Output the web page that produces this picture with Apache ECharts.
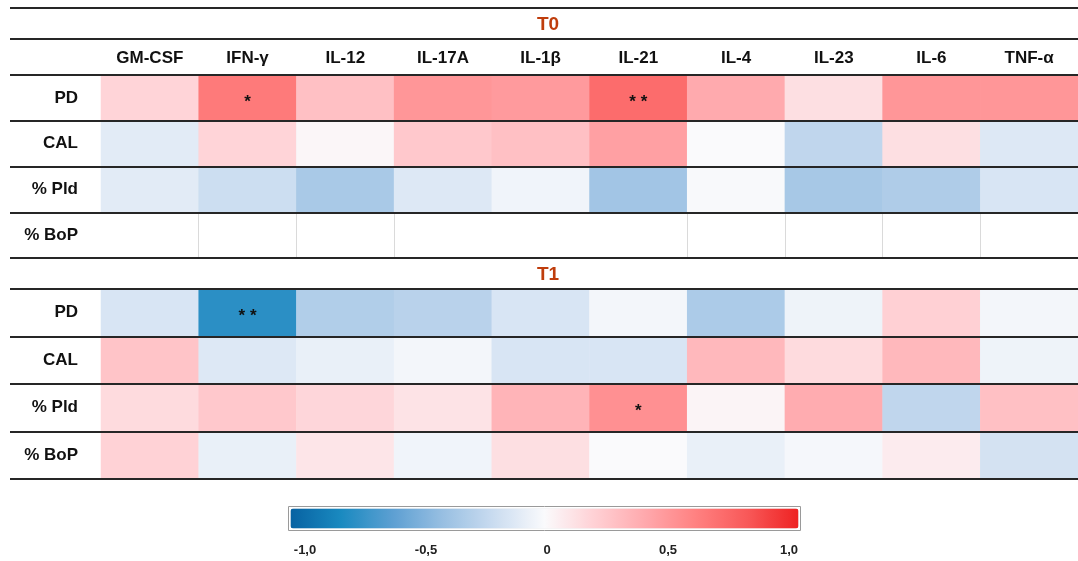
<!DOCTYPE html>
<html>
<head>
<meta charset="utf-8">
<script src="https://cdn.jsdelivr.net/npm/echarts@6/dist/echarts.min.js"></script>
<style>
  html, body { margin: 0; padding: 0; background: #ffffff; }
  #chart { width: 1078px; height: 561px; }
</style>
</head>
<body>
<div id="chart"></div>
<script>
// Cytokines (columns) and clinical parameters (rows)
const cytokines = ['GM-CSF', 'IFN-γ', 'IL-12', 'IL-17A', 'IL-1β', 'IL-21', 'IL-4', 'IL-23', 'IL-6', 'TNF-α'];
const parameters = ['PD', 'CAL', '% Pld', '% BoP'];

// Correlation coefficients at T0 (% BoP not available at T0)
const t0PD  = [0.18, 0.63, 0.28, 0.49, 0.47, 0.70, 0.39, 0.13, 0.49, 0.49];
const t0CAL = [-0.10, 0.18, 0.02, 0.24, 0.28, 0.44, 0.00, -0.24, 0.13, -0.12];
const t0Pld = [-0.10, -0.19, -0.33, -0.12, -0.04, -0.36, -0.01, -0.34, -0.31, -0.14];
const t0BoP = [null, null, null, null, null, null, null, null, null, null];

// Correlation coefficients at T1
const t1PD  = [-0.14, -0.75, -0.30, -0.27, -0.14, -0.03, -0.32, -0.05, 0.20, -0.03];
const t1CAL = [0.26, -0.12, -0.07, -0.03, -0.14, -0.14, 0.32, 0.15, 0.32, -0.05];
const t1Pld = [0.15, 0.24, 0.17, 0.11, 0.34, 0.52, 0.03, 0.38, -0.24, 0.28];
const t1BoP = [0.19, -0.07, 0.10, -0.04, 0.13, 0.00, -0.07, -0.02, 0.07, -0.16];

// Significance stars (1 = *, 2 = **)
const t0PDStars  = [0, 1, 0, 0, 0, 2, 0, 0, 0, 0];
const t1PDStars  = [0, 2, 0, 0, 0, 0, 0, 0, 0, 0];
const t1PldStars = [0, 0, 0, 0, 0, 1, 0, 0, 0, 0];
const noStars    = [0, 0, 0, 0, 0, 0, 0, 0, 0, 0];

// Colour scale ticks
const scaleTicks = [-1, -0.5, 0, 0.5, 1];

const t0Rows = [t0PD, t0CAL, t0Pld, t0BoP];
const t1Rows = [t1PD, t1CAL, t1Pld, t1BoP];
const t0StarRows = [t0PDStars, noStars, noStars, noStars];
const t1StarRows = [t1PDStars, noStars, t1PldStars, noStars];

function toCells(rows, stars) {
  const out = [];
  rows.forEach((row, r) => {
    row.forEach((v, c) => {
      if (v !== null) out.push({ value: [c, r, v], stars: stars[r][c] });
    });
  });
  return out;
}

const starText = n => (n === 2 ? '* *' : n === 1 ? '*' : '');
const fmtTick = v => (v === 0 ? '0' : v.toFixed(1).replace('.', ','));

const ruleColor = '#262626';
const font = '"Liberation Sans", Arial, sans-serif';

function rowAxis(gridIndex) {
  return {
    type: 'category',
    gridIndex: gridIndex,
    data: parameters,
    inverse: true,
    z: 5,
    axisLine: { show: false },
    axisTick: { show: true, length: 91, lineStyle: { color: ruleColor, width: 2 } },
    splitLine: { show: true, lineStyle: { color: ruleColor, width: 2 } },
    axisLabel: {
      align: 'right', margin: 23, fontFamily: font, fontSize: 17,
      fontWeight: 'bold', color: '#111'
    }
  };
}

const heatLabel = {
  show: true,
  formatter: p => starText(p.data.stars),
  offset: [0, 4],
  fontFamily: font,
  fontSize: 17,
  fontWeight: 'bold',
  color: '#111'
};

const option = {
  animation: false,
  backgroundColor: '#ffffff',
  title: [
    { text: 'T0', left: 548, top: 15, textAlign: 'center', padding: 0,
      textStyle: { fontFamily: font, fontSize: 19, fontWeight: 'bold', color: '#bf3d0c' } },
    { text: 'T1', left: 548, top: 265, textAlign: 'center', padding: 0,
      textStyle: { fontFamily: font, fontSize: 19, fontWeight: 'bold', color: '#bf3d0c' } }
  ],
  graphic: [
    { type: 'line', shape: { x1: 10, y1: 8, x2: 1078, y2: 8 }, style: { stroke: ruleColor, lineWidth: 2 } },
    { type: 'line', shape: { x1: 10, y1: 39, x2: 1078, y2: 39 }, style: { stroke: ruleColor, lineWidth: 2 } }
  ],
  grid: [
    { left: 101, right: 0, top: 75, height: 183 },
    { left: 101, right: 0, top: 289, height: 190 },
    { left: 305, width: 484, top: 540, height: 1 }
  ],
  xAxis: [
    {
      type: 'category', gridIndex: 0, data: cytokines, position: 'top',
      axisLine: { show: false }, axisTick: { show: false },
      splitLine: {
        show: true, showMaxLine: false,
        interval: idx => ![0, 4, 5].includes(idx),
        lineStyle: { color: '#dadada', width: 1 }
      },
      axisLabel: {
        margin: 17, verticalAlign: 'middle', interval: 0,
        fontFamily: font, fontSize: 17, fontWeight: 'bold', color: '#111'
      }
    },
    {
      type: 'category', gridIndex: 1, data: cytokines,
      axisLine: { show: false }, axisTick: { show: false },
      axisLabel: { show: false }, splitLine: { show: false }
    },
    {
      type: 'value', gridIndex: 2, min: -1, max: 1, interval: 0.5,
      axisLine: { show: false }, axisTick: { show: false }, splitLine: { show: false },
      axisLabel: {
        margin: 9, verticalAlign: 'middle', formatter: fmtTick,
        fontFamily: font, fontSize: 13, fontWeight: 'bold', color: '#222',
        customValues: scaleTicks
      }
    }
  ],
  yAxis: [
    rowAxis(0),
    rowAxis(1),
    { type: 'value', gridIndex: 2, show: false }
  ],
  visualMap: {
    type: 'continuous',
    seriesIndex: [0, 1],
    min: -1, max: 1,
    orient: 'horizontal',
    left: 288, top: 506,
    itemWidth: 20, itemHeight: 508,
    calculable: false, hoverLink: false,
    padding: 2,
    borderColor: '#9a9a9a', borderWidth: 1,
    inRange: {
      color: ['#0762a2', '#1a8ac0', '#5c9fd2', '#98bfe2', '#cadcf0', '#fafafc',
              '#ffd0d4', '#ffa8ac', '#ff8080', '#f85858', '#ee2222']
    }
  },
  series: [
    {
      name: 'T0', type: 'heatmap', xAxisIndex: 0, yAxisIndex: 0,
      data: toCells(t0Rows, t0StarRows), label: heatLabel,
      emphasis: { disabled: true }
    },
    {
      name: 'T1', type: 'heatmap', xAxisIndex: 1, yAxisIndex: 1,
      data: toCells(t1Rows, t1StarRows), label: heatLabel,
      emphasis: { disabled: true }
    },
    {
      name: 'scale', type: 'line', xAxisIndex: 2, yAxisIndex: 2, data: [], silent: true
    }
  ]
};

const chart = echarts.init(document.getElementById('chart'), null, { renderer: 'canvas' });
chart.setOption(option);
</script>
</body>
</html>
